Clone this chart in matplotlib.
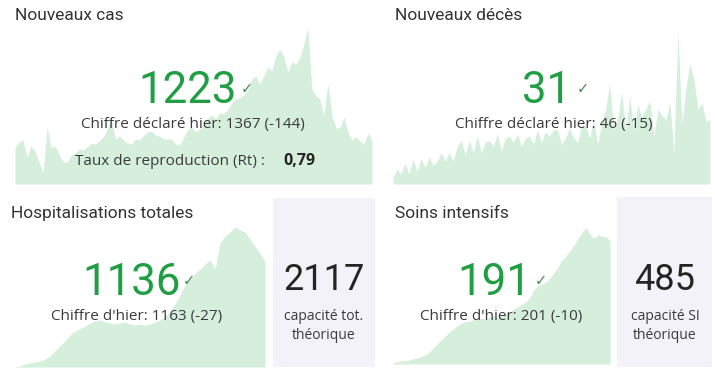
import matplotlib.pyplot as plt
from matplotlib.patches import Rectangle

# daily series (background sparklines)
cases = [1036, 1176, 1232, 756, 1064, 924, 616, 308, 1596, 1008, 1064, 840, 616, 616,
         812, 868, 980, 952, 1036, 1148, 1120, 1204, 1316, 1540, 1792, 1260, 1344, 1232,
         1148, 1120, 1260, 1232, 1344, 1456, 1484, 1372, 1344, 1260, 1260, 1260, 1120,
         1092, 1288, 1512, 1596, 1456, 1540, 1680, 1848, 1932, 1820, 1988, 1960, 2072,
         2268, 2380, 2408, 2492, 2632, 2940, 3024, 2800, 3024, 3276, 3164, 3584, 3780,
         3584, 3136, 3416, 3360, 3528, 3920, 4368, 2660, 2464, 2380, 1904, 2828, 1904,
         1568, 1568, 1876, 1456, 1232, 1316, 1204, 1120, 1428, 1223]
deaths = [3, 7, 5, 10, 5, 12, 6, 12, 8, 13, 9, 11, 15, 11, 15, 11, 18, 21, 14, 21, 15,
          23, 15, 20, 21, 18, 24, 16, 22, 23, 20, 24, 18, 22, 23, 19, 26, 20, 25, 23, 26,
          26, 19, 22, 27, 22, 20, 28, 28, 22, 31, 19, 29, 36, 48, 26, 31, 44, 26, 42, 26,
          38, 32, 36, 40, 23, 36, 33, 31, 39, 15, 73, 29, 46, 58, 50, 36, 39, 30, 31]
hosp = [5, 11, 32, 43, 54, 65, 86, 119, 173, 227, 281, 346, 389, 410, 443, 475, 497,
        508, 486, 475, 464, 475, 486, 464, 454, 464, 454, 464, 486, 508, 540, 605, 680,
        778, 886, 950, 1015, 1058, 1112, 1156, 1058, 1339, 1415, 1458, 1512, 1480, 1458,
        1382, 1307, 1231, 1136]
icu = [2, 3, 5, 5, 6, 8, 9, 11, 14, 18, 25, 31, 37, 43, 49, 54, 59, 63, 65, 66, 68, 69,
       71, 69, 72, 74, 72, 75, 77, 80, 85, 88, 92, 95, 102, 114, 120, 123, 126, 132, 140,
       149, 160, 166, 174, 183, 193, 202, 211, 200, 194, 199, 197, 196, 191]

titles = ["Nouveaux cas", "Nouveaux décès", "Hospitalisations totales", "Soins intensifs"]
main_values = ["1223", "31", "1136", "191"]
sub_labels = ["Chiffre déclaré hier: 1367 (-144)", "Chiffre déclaré hier: 46 (-15)",
              "Chiffre d'hier: 1163 (-27)", "Chiffre d'hier: 201 (-10)"]
rt_label = "Taux de reproduction (Rt) :"
rt_value = "0,79"
capacity_values = ["2117", "485"]
capacity_labels = ["capacité tot.\nthéorique", "capacité SI\nthéorique"]

W, H = 715, 369
AREA = "#d5efdc"
GREEN = "#1f9e44"
DARK = "#252423"
SUB = "#3a3a3a"
BOX = "#f3f2f9"

fig = plt.figure(figsize=(W / 100, H / 100), dpi=100)
fig.patch.set_facecolor("white")


def fx(x):
    return x / W


def fy(y):
    return 1 - y / H


def spark(series, left, right, base, top, ymax):
    ax = fig.add_axes([fx(left), fy(base), (right - left) / W, (base - top) / H])
    ax.fill_between(range(len(series)), series, color=AREA, linewidth=0)
    ax.set_xlim(0, len(series) - 1)
    ax.set_ylim(0, ymax)
    ax.axis("off")
    return ax


spark(cases, 15, 372, 184, 20, 4592)
spark(deaths, 393, 710, 184, 20, 78.7)
spark(hosp, 15, 265, 367, 220, 1588)
spark(icu, 393, 610, 364, 220, 222)

# capacity boxes
for (x0, x1, y0, y1) in [(273, 375, 198, 367), (617, 712, 197, 367)]:
    fig.add_artist(Rectangle((fx(x0), fy(y1)), (x1 - x0) / W, (y1 - y0) / H,
                             transform=fig.transFigure, color=BOX, lw=0, zorder=1))

# titles
for t, (x, y) in zip(titles, [(15, 20), (395, 20), (11, 218), (395, 218)]):
    fig.text(fx(x), fy(y), t, fontsize=12.5, family="Roboto", color="#333333",
             ha="left", va="baseline", zorder=5)

# big numbers + check marks
for v, (x, y), (cx, cy) in zip(main_values,
                               [(188, 103), (547, 103), (131, 295), (494, 295)],
                               [(247, 89), (583, 89), (189, 281), (541, 281)]):
    fig.text(fx(x), fy(y), v, fontsize=31.5, family="Roboto", color=GREEN,
             ha="center", va="baseline", zorder=5)
    fig.text(fx(cx), fy(cy), "✓", fontsize=10.5, family="DejaVu Sans", color="#4a8a5a",
             ha="center", va="center", zorder=5)

# sub labels
for s, (x, y) in zip(sub_labels, [(193, 128), (554, 128), (137, 320), (501, 320)]):
    fig.text(fx(x), fy(y), s, fontsize=11, family="Open Sans", color=SUB,
             ha="center", va="baseline", zorder=5)

fig.text(fx(75), fy(165), rt_label, fontsize=11, family="Open Sans", color=SUB,
         ha="left", va="baseline", zorder=5)
fig.text(fx(283), fy(165), rt_value, fontsize=11.5, family="Open Sans", weight="bold",
         color=DARK, ha="left", va="baseline", zorder=5)

# capacity numbers
for v, lab, x in zip(capacity_values, capacity_labels, [324, 665]):
    fig.text(fx(x), fy(290), v, fontsize=26, family="Roboto", color=DARK,
             ha="center", va="baseline", zorder=5)
    fig.text(fx(x), fy(326), lab, fontsize=10, family="Open Sans", color=SUB,
             ha="center", va="center", linespacing=1.45, zorder=5)

fig.savefig("out.png", dpi=100)
